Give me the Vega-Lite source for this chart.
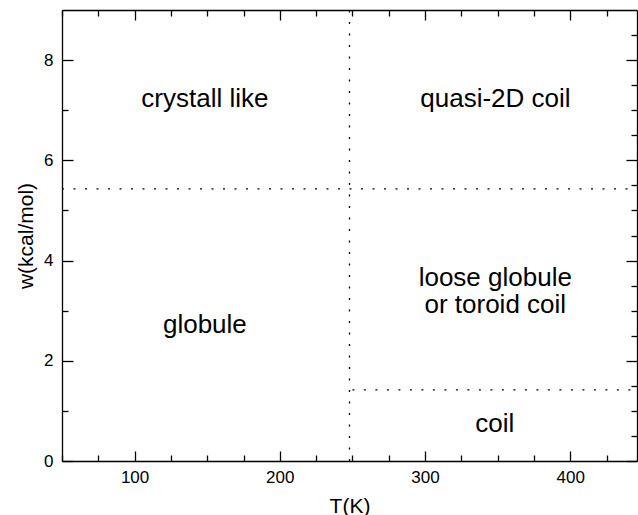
{
  "$schema": "https://vega.github.io/schema/vega-lite/v6.json",
  "width": 575,
  "height": 451,
  "autosize": {"type": "none"},
  "padding": {"left": 62, "top": 10, "right": 1, "bottom": 54},
  "config": {
    "view": {"stroke": null},
    "font": "Liberation Sans",
    "axis": {
      "grid": false,
      "domainColor": "#000",
      "domainWidth": 1.3,
      "tickColor": "#000",
      "tickWidth": 1.3,
      "labelColor": "#000",
      "labelFont": "Liberation Sans",
      "labelFontSize": 17,
      "labelFlush": false,
      "labelOverlap": false,
      "labelBound": false,
      "titleColor": "#000",
      "titleFont": "Liberation Sans",
      "titleFontSize": 21,
      "titleFontWeight": "normal"
    }
  },
  "datasets": {
    "boundaries": [
      {"T_start": 248, "T_end": 248, "w_start": 0, "w_end": 9},
      {"T_start": 50, "T_end": 446, "w_start": 5.43, "w_end": 5.43},
      {"T_start": 250, "T_end": 446, "w_start": 1.42, "w_end": 1.42}
    ],
    "regions": [
      {"label": "crystall like", "T": 148.4, "w": 7.06},
      {"label": "quasi-2D coil", "T": 348.5, "w": 7.06},
      {"label": "loose globule\nor toroid coil", "T": 348.4, "w": 3.49},
      {"label": "globule", "T": 148.4, "w": 2.55},
      {"label": "coil", "T": 348, "w": 0.58}
    ]
  },
  "layer": [
    {
      "data": {"name": "boundaries"},
      "mark": {"type": "rule", "strokeDash": [2, 9.5], "strokeWidth": 1.3, "color": "#000"},
      "encoding": {
        "x": {
          "field": "T_start",
          "type": "quantitative",
          "scale": {"domain": [50, 446], "nice": false, "zero": false},
          "axis": {
            "orient": "bottom",
            "values": [50, 75, 100, 125, 150, 175, 200, 225, 250, 275, 300, 325, 350, 375, 400, 425],
            "format": "d",
            "tickSize": {"condition": {"test": "datum.value % 100 === 0", "value": -10}, "value": -6},
            "labelExpr": "datum.value % 100 === 0 ? datum.label : ''",
            "labelPadding": 18,
            "title": "T(K)",
            "titlePadding": 6
          }
        },
        "x2": {"field": "T_end"},
        "y": {
          "field": "w_start",
          "type": "quantitative",
          "scale": {"domain": [0, 9], "nice": false, "zero": false},
          "axis": {
            "orient": "left",
            "values": [0, 0.5, 1, 1.5, 2, 2.5, 3, 3.5, 4, 4.5, 5, 5.5, 6, 6.5, 7, 7.5, 8, 8.5],
            "format": "d",
            "tickSize": {"condition": {"test": "datum.value % 2 === 0", "value": -11}, "value": -6},
            "labelExpr": "datum.value % 2 === 0 ? datum.label : ''",
            "labelPadding": 20,
            "title": "w(kcal/mol)",
            "titlePadding": 7
          }
        },
        "y2": {"field": "w_end"}
      }
    },
    {
      "data": {"name": "regions"},
      "mark": {"type": "text", "fontSize": 26, "font": "Liberation Sans", "color": "#000", "align": "center", "baseline": "alphabetic", "lineBreak": "\n", "lineHeight": 26.6},
      "encoding": {
        "x": {
          "field": "T",
          "type": "quantitative",
          "scale": {"domain": [50, 446], "nice": false, "zero": false},
          "axis": {
            "orient": "top",
            "values": [50, 75, 100, 125, 150, 175, 200, 225, 250, 275, 300, 325, 350, 375, 400, 425],
            "tickSize": {"condition": {"test": "datum.value % 100 === 0", "value": -10}, "value": -6},
            "labels": false,
            "title": null
          }
        },
        "y": {
          "field": "w",
          "type": "quantitative",
          "scale": {"domain": [0, 9], "nice": false, "zero": false},
          "axis": {
            "orient": "right",
            "values": [0, 0.5, 1, 1.5, 2, 2.5, 3, 3.5, 4, 4.5, 5, 5.5, 6, 6.5, 7, 7.5, 8, 8.5],
            "tickSize": {"condition": {"test": "datum.value % 2 === 0", "value": -11}, "value": -6},
            "labels": false,
            "title": null
          }
        },
        "text": {"field": "label"}
      }
    }
  ],
  "resolve": {"axis": {"x": "independent", "y": "independent"}}
}
